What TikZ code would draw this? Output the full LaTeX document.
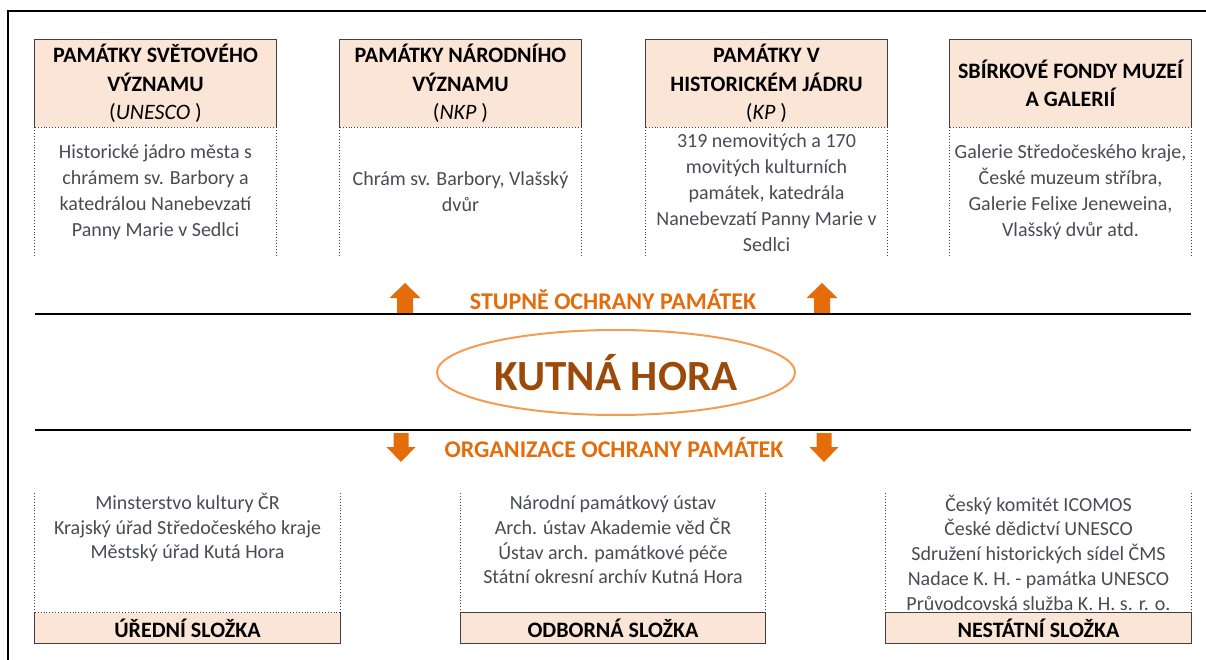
\documentclass[tikz,border=0pt]{standalone}
\usepackage{fontspec}
\setmainfont{Carlito}
\usetikzlibrary{shapes.geometric}
\definecolor{peach}{HTML}{FBE5D6}
\definecolor{orng}{HTML}{E46C0A}
\definecolor{ellc}{HTML}{F39C52}
\definecolor{brwn}{HTML}{9C4A0A}
\definecolor{bodyc}{HTML}{4A4A55}
\definecolor{edge}{HTML}{404040}
\tikzset{
  x=1pt, y=-1pt,
  hdrbox/.style={fill=peach, minimum width=241pt, minimum height=87pt, inner sep=0pt},
  hdrtext/.style={align=center, font=\bfseries\fontsize{22}{28.5}\selectfont, text=black},
  bodytext/.style={align=center, font=\fontsize{20}{26}\selectfont, text=bodyc},
  lowtext/.style={align=center, font=\fontsize{20}{24.7}\selectfont, text=bodyc},
  lblbox/.style={fill=peach, minimum width=305pt, minimum height=30pt, inner sep=0pt,
                 font=\bfseries\fontsize{22}{24}\selectfont, text=black},
  solidedge/.style={draw=edge, line width=1pt},
  dotedge/.style={draw=edge, line width=0.9pt, dotted},
  rule/.style={draw=black, line width=2pt},
  orgtext/.style={font=\bfseries\fontsize{24}{28}\selectfont, text=orng},
  uparr/.pic={\fill[orng] (-8,0) -- (-8,-15) -- (-15.5,-15) -- (0,-30) -- (15.5,-15) -- (8,-15) -- (8,0) -- cycle;},
  downarr/.pic={\fill[orng] (-7.5,0) -- (-7.5,14) -- (-14.5,14) -- (0,29) -- (14.5,14) -- (7.5,14) -- (7.5,0) -- cycle;}
}
\begin{document}
\begin{tikzpicture}
\useasboundingbox (0,0) rectangle (1206,660);
% frame
\draw[line width=2pt] (8,660) -- (8,11) -- (1206,11);

% top header boxes
\node[hdrbox] (h1) at (155.5,83.5) {};
\node[hdrbox] (h2) at (460.5,83.5) {};
\node[hdrbox] (h3) at (766.5,83.5) {};
\node[hdrbox] (h4) at (1070.5,83.5) {};
\foreach \h in {h1,h2,h3,h4}{
  \draw[solidedge] (\h.south west) -- (\h.north west) -- (\h.north east) -- (\h.south east);
  \draw[dotedge] (\h.south west) -- (\h.south east);
  \draw[dotedge] (\h.south west) -- ++(0,129);
  \draw[dotedge] (\h.south east) -- ++(0,129);
}
\node[hdrtext] (t1) at (h1) {PAMÁTKY SVĚTOVÉHO\\VÝZNAMU\\\mdseries(\textit{UNESCO} )};
\node[hdrtext] (t2) at (h2) {PAMÁTKY NÁRODNÍHO\\VÝZNAMU\\\mdseries(\textit{NKP} )};
\node[hdrtext] (t3) at (h3) {PAMÁTKY V\\HISTORICKÉM JÁDRU\\\mdseries(\textit{KP} )};
\node[hdrtext] (t4) at (h4) {SBÍRKOVÉ FONDY MUZEÍ\\A GALERIÍ};

\node[bodytext] (b1) at (155.5,192) {Historické jádro města s\\chrámem sv. Barbory a\\katedrálou Nanebevzatí\\Panny Marie v Sedlci};
\node[bodytext] (b2) at (460.5,192) {Chrám sv. Barbory, Vlašský\\dvůr};
\node[bodytext] (b3) at (766.5,193) {319 nemovitých a 170\\movitých kulturních\\památek, katedrála\\Nanebevzatí Panny Marie v\\Sedlci};
\node[bodytext] (b4) at (1070.5,192) {Galerie Středočeského kraje,\\České muzeum stříbra,\\Galerie Felixe Jeneweina,\\Vlašský dvůr atd.};

% middle band
\coordinate (r1a) at (35,314);
\coordinate (r1b) at (1191,314);
\coordinate (r2a) at (35,430);
\coordinate (r2b) at (1191,430);
\draw[rule] (r1a) -- (r1b);
\draw[rule] (r2a) -- (r2b);

\node[ellipse, draw=ellc, line width=2pt, minimum width=358pt, minimum height=85pt] (kh) at (616,372.5) {};
\node[font=\bfseries\fontsize{43}{48}\selectfont, text=brwn] (khtext) at (kh) {KUTNÁ HORA};

\node[orgtext] (stup) at (613,300) {STUPNĚ OCHRANY PAMÁTEK};
\node[orgtext] (org) at (614,447) {ORGANIZACE OCHRANY PAMÁTEK};

\pic at (405,313) {uparr};
\pic at (822,313) {uparr};
\pic at (401,433) {downarr};
\pic at (824,433) {downarr};

% bottom boxes
\node[lblbox] (l1) at (187.5,628) {ÚŘEDNÍ SLOŽKA};
\node[lblbox] (l2) at (613,628) {ODBORNÁ SLOŽKA};
\node[lblbox] (l3) at (1038.5,628) {NESTÁTNÍ SLOŽKA};
\draw[solidedge] (l1.north west) -- (l1.south west) -- (l1.south east) -- (l1.north east);
\draw[dotedge] (l1.north west) -- (l1.north east);
\draw[solidedge] (l2.north west) rectangle (l2.south east);
\draw[solidedge] (l3.north west) rectangle (l3.south east);
\foreach \l in {l1,l2,l3}{
  \draw[dotedge] (\l.north west) -- ++(0,-121);
  \draw[dotedge] (\l.north east) -- ++(0,-121);
}

\node[lowtext] (c1) at (187.5,527.5) {Minsterstvo kultury ČR\\Krajský úřad Středočeského kraje\\Městský úřad Kutá Hora};
\node[lowtext] (c2) at (613,540) {Národní památkový ústav\\Arch. ústav Akademie věd ČR\\Ústav arch. památkové péče\\Státní okresní archív Kutná Hora};
\node[lowtext] (c3) at (1038.5,552.5) {Český komitét ICOMOS\\České dědictví UNESCO\\Sdružení historických sídel ČMS\\Nadace K. H. - památka UNESCO\\Průvodcovská služba K. H. s. r. o.};
\end{tikzpicture}
\end{document}
